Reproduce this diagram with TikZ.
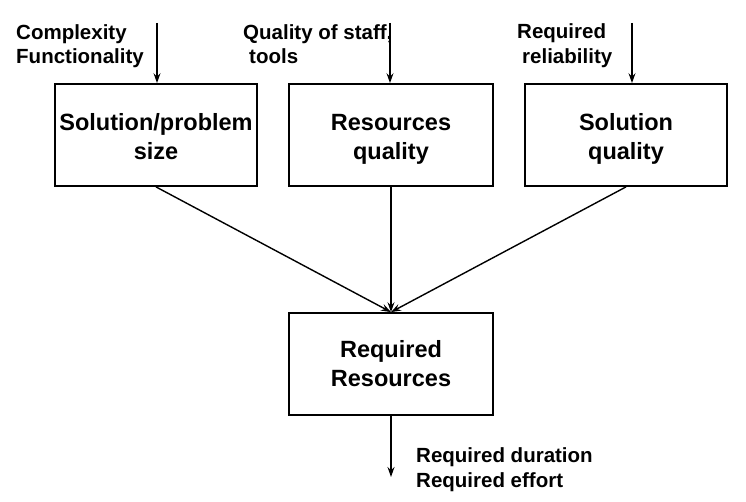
\documentclass[tikz,border=0pt]{standalone}
\usepackage{fontspec}
\setmainfont{Liberation Sans}
\usetikzlibrary{arrows.meta}
\tikzset{
  box/.style={draw, line width=1.8pt, minimum height=102pt, inner sep=0pt, align=center,
    text height=50pt, text depth=0pt,
    font=\bfseries\fontsize{23.5}{29}\selectfont},
  lbl/.style={anchor=base west, inner sep=0pt, align=left,
    font=\bfseries\fontsize{20.5}{24}\selectfont},
  conn/.style={line width=1.4pt, -{Stealth[length=10pt,width=7pt,inset=3.5pt]}}
}
\begin{document}
\begin{tikzpicture}[x=1pt,y=-1pt]
\useasboundingbox (0,0) rectangle (746,502);
\node[box, minimum width=202pt] (b1) at (156,135) {Solution/problem\\size};
\node[box, minimum width=204pt] (b2) at (391,135) {Resources\\quality};
\node[box, minimum width=202pt] (b3) at (626,135) {Solution\\quality};
\node[box, minimum width=204pt, text height=44pt] (b4) at (391,364) {Required\\Resources};

\node[lbl] (l1a) at (16,40) {Complexity};
\node[lbl] (l1b) at (16,64) {Functionality};
\node[lbl] (l2a) at (243,40) {Quality of staff,};
\node[lbl] (l2b) at (249,64) {tools};
\node[lbl] (l3a) at (517,39) {Required};
\node[lbl] (l3b) at (522,64) {reliability};
\node[lbl] (l4a) at (416,462) {Required duration};
\node[lbl] (l4b) at (416,487) {Required effort};

\coordinate (in1) at (157,23);
\coordinate (in2) at (390,23);
\coordinate (in3) at (632,23);
\coordinate (out) at (391,477);

\draw[conn] (in1) -- (in1 |- b1.north);
\draw[conn] (in2) -- (in2 |- b2.north);
\draw[conn] (in3) -- (in3 |- b3.north);
\draw[conn] (b1.south) -- (b4.north);
\draw[conn] (b2.south) -- (b4.north);
\draw[conn] (b3.south) -- (b4.north);
\draw[conn] (b4.south) -- (out);
\end{tikzpicture}
\end{document}
